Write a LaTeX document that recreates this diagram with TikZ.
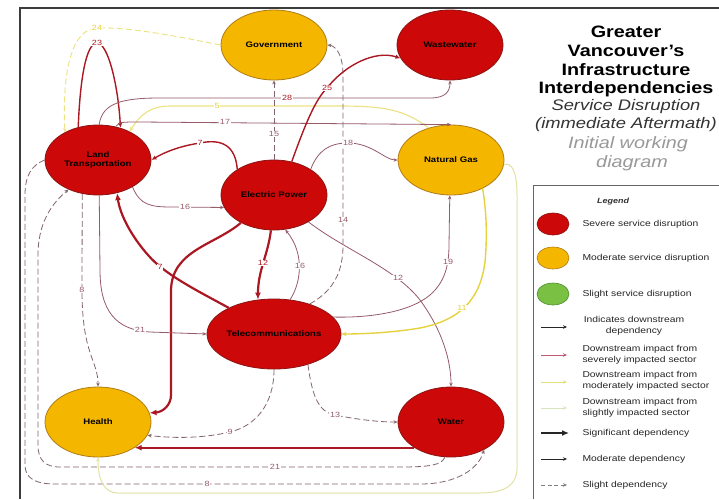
\documentclass[tikz,border=0pt]{standalone}
\usepackage{fontspec}
\setmainfont{Liberation Sans}[FakeStretch=1.2]
\usetikzlibrary{arrows.meta,shapes.geometric}
\definecolor{sevfill}{RGB}{204,8,8}
\definecolor{sevdraw}{RGB}{140,20,20}
\definecolor{modfill}{RGB}{245,182,0}
\definecolor{moddraw}{RGB}{175,125,20}
\definecolor{slfill}{RGB}{122,193,67}
\definecolor{sldraw}{RGB}{80,140,50}
\definecolor{thinc}{RGB}{150,90,105}
\definecolor{thickc}{RGB}{170,25,35}
\definecolor{yelc}{RGB}{230,210,60}
\definecolor{lyelc}{RGB}{236,226,130}
\definecolor{paleyc}{RGB}{226,226,165}
\definecolor{dashc}{RGB}{130,100,110}
\definecolor{framec}{RGB}{60,60,60}
\definecolor{legsev}{RGB}{195,90,115}
\definecolor{legmod}{RGB}{225,225,120}
\definecolor{legsl}{RGB}{215,228,190}
\begin{document}
\begin{tikzpicture}[x=1pt,y=-1pt,
  sev/.style={ellipse, fill=sevfill, draw=sevdraw, line width=0.8pt, minimum width=106pt, minimum height=70pt, inner sep=0pt, font=\fontsize{8}{9.5}\selectfont\bfseries, align=center},
  mod/.style={sev, fill=modfill, draw=moddraw},
  thinarr/.style={draw=thinc, line width=0.8pt, -{Stealth[length=4pt,width=3.5pt]}},
  thickarr/.style={draw=thickc, line width=2.2pt, -{Latex[length=7pt,width=6pt]}},
  medarr/.style={draw=thickc, line width=1.4pt, -{Latex[length=5pt,width=4.5pt]}},
  slightarr/.style={draw=dashc, line width=0.8pt, dash pattern=on 6pt off 3pt, -{Stealth[length=4pt,width=3.5pt]}},
  yelarr/.style={draw=yelc, line width=1.4pt, -{Stealth[length=5pt,width=4pt]}},
  lab/.style={fill=white, inner sep=0.6pt, font=\fontsize{7.5}{8}\selectfont, text=thinc},
  legtxt/.style={font=\fontsize{8.6}{10.5}\selectfont, text=black!85, anchor=west, align=left},
  ttl/.style={font=\fontsize{16.5}{19}\selectfont\bfseries},
  sub/.style={font=\fontsize{15.3}{18}\selectfont\itshape, text=black!80},
  subl/.style={font=\fontsize{16.5}{19}\selectfont\itshape, text=black!40}
]
\useasboundingbox (0,0) rectangle (719,499);
\fill[white] (0,0) rectangle (719,499);
% frame
\draw[line width=1.5pt, framec] (20,499) -- (20,8) -- (719,8);

% nodes
\node[mod] (gov) at (274,45) {Government};
\node[sev] (ww) at (450,45) {Wastewater};
\node[sev] (lt) at (98,160) {Land\\Transportation};
\node[sev] (ep) at (274,195) {Electric Power};
\node[mod] (ng) at (451,160) {Natural Gas};
\node[sev] (tel) at (274,334) {Telecommunications};
\node[mod] (hl) at (98,422) {Health};
\node[sev] (wt) at (451,422) {Water};

% connectors
\draw[draw=lyelc, line width=0.9pt, dash pattern=on 6pt off 3pt, -{Stealth[length=4pt,width=3.5pt]}] (gov.180) .. controls (175,36) and (130,27) .. (97,28) .. controls (72,29) and (62,70) .. (lt.140);
\draw[medarr] (lt.121) .. controls (80,80) and (86,43) .. (97,43) .. controls (108,43) and (118,85) .. (lt.55);
\draw[thinarr] (lt.88) .. controls (102,102) and (125,98) .. (160,98) -- (430,98) .. controls (445,98) and (450,92) .. (ww.south);
\draw[draw=lyelc, line width=1.1pt, -{Stealth[length=4.5pt,width=4pt]}] (ng.125) .. controls (405,110) and (385,106) .. (340,106) -- (170,106) .. controls (150,106) and (140,115) .. (lt.42);
\draw[thinarr] (lt.62) .. controls (120,122) .. (140,122) -- (ng.north);
\draw[medarr] (ep.145) .. controls (235,140) and (215,140) .. (200,143) .. controls (180,146) and (165,152) .. (lt.east);
\draw[thinarr] (lt.322) .. controls (140,205) and (150,207) .. (172,207) -- (ep.194);
\draw[slightarr] (ep.north) -- (gov.south);
\draw[slightarr] (tel.40) .. controls (335,290) and (343,270) .. (343,245) -- (343,75) .. controls (343,55) and (336,46) .. (gov.east);
\draw[medarr] (ep.62) .. controls (305,125) and (315,100) .. (327,88) .. controls (345,65) and (375,50) .. (ww.195);
\draw[thinarr] (ep.35) .. controls (318,150) and (330,143) .. (348,143) .. controls (372,143) and (385,160) .. (ng.west);
\draw[thinarr] (tel.16) .. controls (370,318) and (410,312) .. (430,295) .. controls (445,282) and (449,265) .. (449,245) -- (ng.268);
\draw[thinarr] (ep.322) .. controls (345,250) and (395,268) .. (420,300) .. controls (442,330) and (451,360) .. (wt.north);
\draw[thinarr] (tel.65) .. controls (300,285) and (306,255) .. (ep.288);
\draw[thickarr] (ep.265) .. controls (268,255) and (258,270) .. (tel.115);
\draw[thickarr] (tel.150) .. controls (200,292) and (165,275) .. (148,255) .. controls (132,237) and (120,215) .. (lt.300);
\draw[thickarr] (ep.220) .. controls (215,245) and (172,250) .. (171,290) -- (171,395) .. controls (171,405) and (163,412) .. (hl.10);
\draw[thinarr] (lt.272) -- (100,270) .. controls (100,310) and (115,330) .. (150,332) -- (tel.west);
\draw[slightarr] (lt.245) -- (82,290) .. controls (82,355) and (98,360) .. (hl.north);
\draw[slightarr] (tel.south) .. controls (274,405) and (255,426) .. (230,432) .. controls (200,439) and (170,438) .. (hl.345);
\draw[slightarr] (tel.318) .. controls (312,395) and (318,412) .. (335,415) .. controls (360,420) and (380,422) .. (wt.west);
\draw[yelarr] (ng.318) .. controls (487,215) and (487,240) .. (485,262) .. controls (480,300) and (460,320) .. (420,328) .. controls (390,333) and (360,334) .. (tel.east);
\draw[thickarr] (wt.215) -- (hl.325);
\draw[slightarr] (wt.260) .. controls (442,465) and (430,467) .. (400,467) -- (60,467) .. controls (45,467) and (38,460) .. (38,445) -- (38,255) .. controls (38,225) and (50,205) .. (lt.225);
\draw[slightarr] (lt.west) .. controls (32,165) and (25,175) .. (25,195) -- (25,465) .. controls (25,478) and (35,484) .. (55,484) -- (420,484) .. controls (455,484) and (478,470) .. (wt.320);
\draw[draw=paleyc, line width=1pt, -{Stealth[length=4pt,width=3.5pt]}] (ng.355) .. controls (512,162) and (517,172) .. (517,195) -- (517,468) .. controls (517,485) and (505,493) .. (480,493) -- (118,493) .. controls (104,493) and (98,480) .. (hl.south);

% connector labels
\node[lab, text=yelc] (n24) at (97,28) {24};
\node[lab, text=thickc] (n23) at (97,43) {23};
\node[lab, text=thickc] (n28) at (287,98) {28};
\node[lab, text=yelc] (n5) at (217,106) {5};
\node[lab] (n17) at (225,122) {17};
\node[lab] (n15) at (274,134) {15};
\node[lab, text=thickc] (n7a) at (200,143) {7};
\node[lab] (n18) at (348,143) {18};
\node[lab] (n16a) at (185,207) {16};
\node[lab] (n14) at (343,220) {14};
\node[lab, text=thickc] (n25) at (327,88) {25};
\node[lab, text=thickc] (n12a) at (263,263) {12};
\node[lab] (n16b) at (300,266) {16};
\node[lab, text=thickc] (n7b) at (160,267) {7};
\node[lab] (n19) at (448,262) {19};
\node[lab] (n12b) at (398,278) {12};
\node[lab, text=yelc] (n11) at (462,308) {11};
\node[lab] (n21a) at (140,330) {21};
\node[lab] (n8a) at (82,290) {8};
\node[lab] (n9) at (230,432) {9};
\node[lab] (n13) at (335,415) {13};
\node[lab] (n21b) at (275,467) {21};
\node[lab] (n8b) at (207,484) {8};

% title
\node[ttl] (t1) at (626,32) {Greater};
\node[ttl] (t2) at (626,51) {Vancouver's};
\node[ttl] (t3) at (626,70) {Infrastructure};
\node[ttl] (t4) at (626,89) {Interdependencies};
\node[sub] (t5) at (626,107) {Service Disruption};
\node[sub] (t6) at (626,125) {(immediate Aftermath)};
\node[subl] (t7) at (628,144) {Initial working};
\node[subl] (t8) at (632,163) {diagram};

% legend
\draw[line width=0.9pt, black!60] (533,499) -- (533,185) -- (719,185);
\node[font=\fontsize{7.5}{9}\selectfont\bfseries\itshape, text=black!80] (lg) at (613,202) {Legend};
\node[ellipse, fill=sevfill, draw=sevdraw, line width=0.6pt, minimum width=32pt, minimum height=22pt] (e1) at (553,224) {};
\node[ellipse, fill=modfill, draw=moddraw, line width=0.6pt, minimum width=32pt, minimum height=22pt] (e2) at (553,258) {};
\node[ellipse, fill=slfill, draw=sldraw, line width=0.6pt, minimum width=32pt, minimum height=22pt] (e3) at (553,294) {};
\node[legtxt] (g1) at (579,224) {Severe service disruption};
\node[legtxt] (g2) at (579,258) {Moderate service disruption};
\node[legtxt] (g3) at (579,294) {Slight service disruption};
\node[legtxt, align=center, anchor=center] (g4) at (634,326) {Indicates downstream\\dependency};
\node[legtxt] (g5) at (579,355) {Downstream impact from\\severely impacted sector};
\node[legtxt] (g6) at (579,381) {Downstream impact from\\moderately impacted sector};
\node[legtxt] (g7) at (579,408) {Downstream impact from\\slightly impacted sector};
\node[legtxt] (g8) at (579,433) {Significant dependency};
\node[legtxt] (g9) at (579,459) {Moderate dependency};
\node[legtxt] (g10) at (579,485) {Slight dependency};
\coordinate (a1) at (541,327); \coordinate (b1) at (567,327);
\coordinate (a2) at (541,355); \coordinate (b2) at (567,355);
\coordinate (a3) at (541,382); \coordinate (b3) at (567,382);
\coordinate (a4) at (541,408); \coordinate (b4) at (567,408);
\coordinate (a5) at (541,433); \coordinate (b5) at (569,433);
\coordinate (a6) at (541,459); \coordinate (b6) at (567,459);
\coordinate (a7) at (541,485); \coordinate (b7) at (567,485);
\draw[line width=0.8pt, black!85, -{Stealth[length=4pt,width=3.5pt]}] (a1) -- (b1);
\draw[line width=0.8pt, legsev, -{Stealth[length=4pt,width=3.5pt]}] (a2) -- (b2);
\draw[line width=0.8pt, legmod, -{Stealth[length=4pt,width=3.5pt]}] (a3) -- (b3);
\draw[line width=0.8pt, legsl, -{Stealth[length=4pt,width=3.5pt]}] (a4) -- (b4);
\draw[line width=2.2pt, black!85, -{Latex[length=7pt,width=6pt]}] (a5) -- (b5);
\draw[line width=0.9pt, black!85, -{Stealth[length=4pt,width=3.5pt]}] (a6) -- (b6);
\draw[line width=0.8pt, black!50, dash pattern=on 4pt off 2.5pt, -{Stealth[length=4pt,width=3.5pt]}] (a7) -- (b7);
\end{tikzpicture}
\end{document}
